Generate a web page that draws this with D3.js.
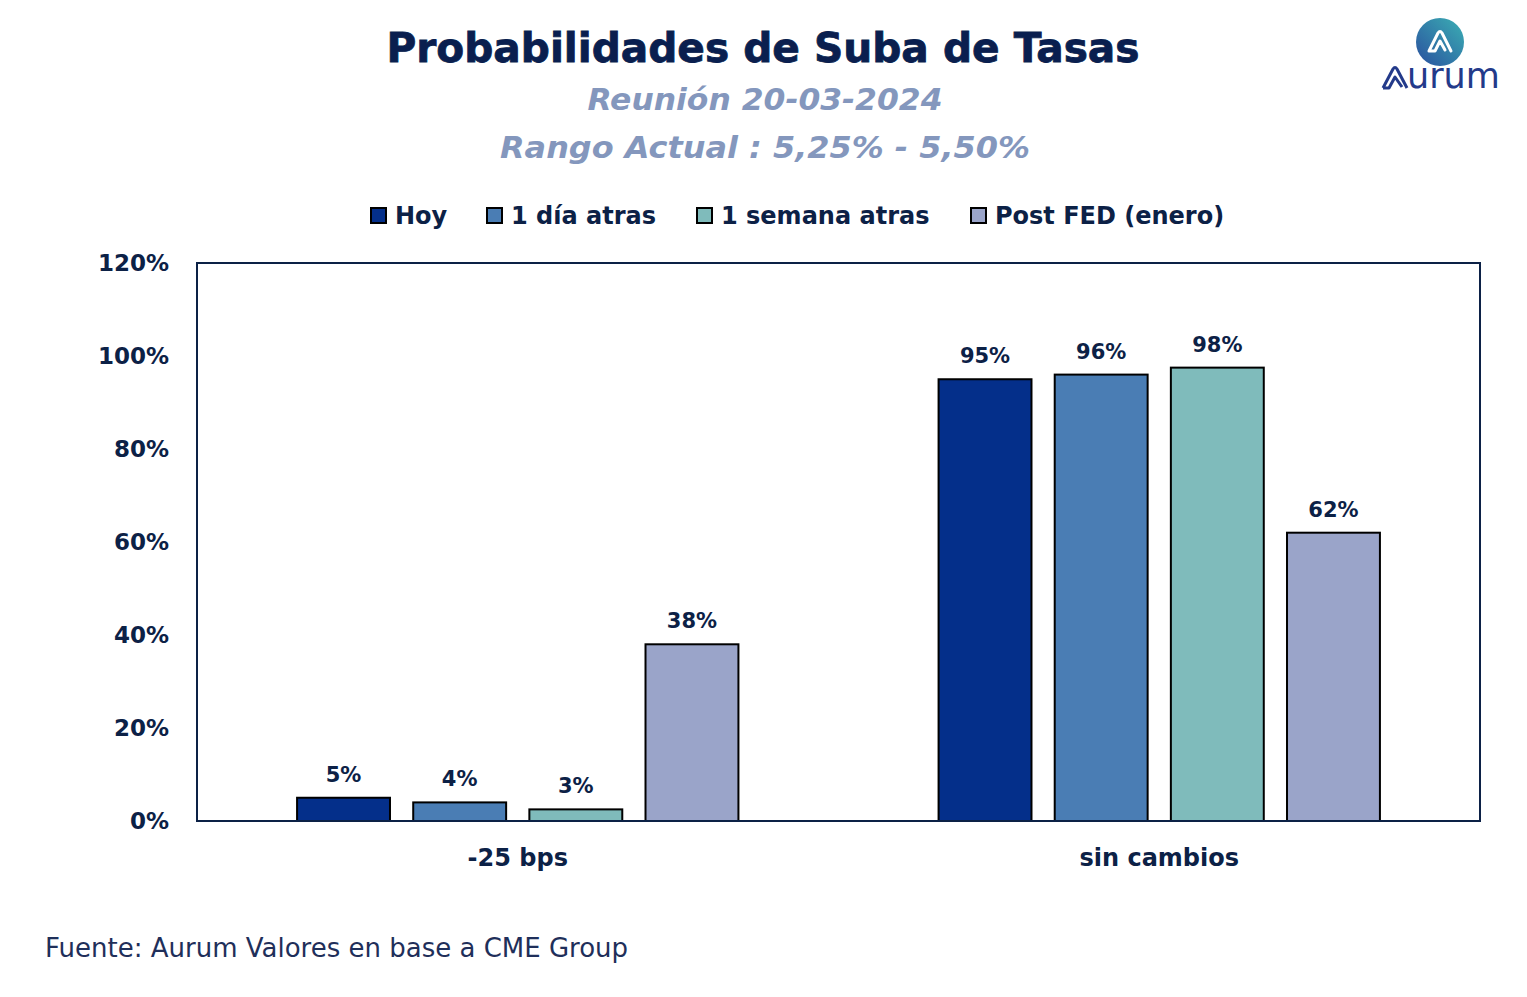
<!DOCTYPE html>
<html>
<head>
<meta charset="utf-8">
<style>
  body { margin: 0; background: #fff; }
  text { font-family: "DejaVu Sans", sans-serif; fill: #0c2146; }
  .bold { font-weight: bold; }
</style>
</head>
<body>
<svg width="1527" height="997"></svg>
<script src="https://cdn.jsdelivr.net/npm/d3@7"></script>
<script>
// data
var categories = ["-25 bps", "sin cambios"];
var series = ["Hoy", "1 día atras", "1 semana atras", "Post FED (enero)"];
var hoy = [5, 95];
var unDia = [4, 96];
var unaSemana = [2.5, 97.5];
var postFed = [38, 62];
var yTicks = [0, 20, 40, 60, 80, 100, 120];
var colors = ["#042f8a", "#4a7db4", "#7fbbbb", "#9aa4c9"];

var values = [hoy, unDia, unaSemana, postFed];
var rows = categories.map(function(c, i) {
    return { cat: c, vals: series.map(function(s, j) { return { s: s, v: values[j][i] }; }) };
});

var svg = d3.select("svg");
var margin = { left: 197, right: 47, top: 263, bottom: 176 };
var W = 1527, H = 997;

var x0 = d3.scaleBand().domain(categories).range([margin.left, W - margin.right]).padding(0);
var gap = x0.bandwidth() * 0.156;
var x1 = d3.scaleBand().domain(series).range([gap, x0.bandwidth() - gap]).paddingInner(0.2).paddingOuter(0);
var y = d3.scaleLinear().domain([0, 120]).range([H - margin.bottom, margin.top]);
var color = d3.scaleOrdinal().domain(series).range(colors);

// titles
function fitText(sel, width) {
    sel.attr("textLength", width).attr("lengthAdjust", "spacingAndGlyphs");
}
var t1 = svg.append("text").attr("x", 763).attr("y", 62).attr("text-anchor", "middle")
    .style("font-weight", "bold")
    .style("font-size", "40px").style("fill", "#0a1f4f").style("stroke", "#0a1f4f").style("stroke-width", "0.8px")
    .text("Probabilidades de Suba de Tasas");
fitText(t1, 753);
var t2 = svg.append("text").attr("x", 765).attr("y", 110).attr("text-anchor", "middle")
    .style("font-weight", "bold").style("font-style", "italic")
    .style("font-size", "31px").style("fill", "#8497bd")
    .text("Reunión 20-03-2024");
fitText(t2, 355);
var t3 = svg.append("text").attr("x", 765).attr("y", 158).attr("text-anchor", "middle")
    .style("font-weight", "bold").style("font-style", "italic")
    .style("font-size", "31px").style("fill", "#8497bd")
    .text("Rango Actual : 5,25% - 5,50%");
fitText(t3, 530);

// legend
var legendX = [371, 487, 697, 971];
var legend = svg.append("g").selectAll("g").data(series).join("g")
    .attr("transform", function(d, i) { return "translate(" + legendX[i] + ",208)"; });
legend.append("rect").attr("width", 15).attr("height", 15)
    .attr("fill", function(d) { return color(d); }).attr("stroke", "#000").attr("stroke-width", 2);
legend.append("text").attr("class", "bold").attr("x", 24).attr("y", 16)
    .style("font-size", "24px").text(function(d) { return d; });

// plot frame
svg.append("rect").attr("x", margin.left).attr("y", margin.top)
    .attr("width", W - margin.left - margin.right).attr("height", H - margin.top - margin.bottom)
    .attr("fill", "none").attr("stroke", "#0c2146").attr("stroke-width", 2);

// y axis
var yAxis = svg.append("g").attr("transform", "translate(" + margin.left + ",0)")
    .call(d3.axisLeft(y).tickValues(yTicks).tickSize(0).tickPadding(28).tickFormat(function(d) { return d + "%"; }));
yAxis.select(".domain").remove();
yAxis.selectAll("text").attr("class", "bold").style("font-size", "23px").style("fill", "#0c2146")
    .style("font-family", "'DejaVu Sans', sans-serif");

// x axis labels
var xAxis = svg.append("g").attr("transform", "translate(0," + (H - margin.bottom) + ")")
    .call(d3.axisBottom(x0).tickSize(0).tickPadding(28));
xAxis.select(".domain").remove();
xAxis.selectAll("text").attr("class", "bold").style("font-size", "24px").style("fill", "#0c2146")
    .style("font-family", "'DejaVu Sans', sans-serif");

// bars
var groups = svg.append("g").selectAll("g").data(rows).join("g")
    .attr("transform", function(d) { return "translate(" + x0(d.cat) + ",0)"; });
groups.selectAll("rect").data(function(d) { return d.vals; }).join("rect")
    .attr("x", function(d) { return x1(d.s); })
    .attr("y", function(d) { return y(d.v); })
    .attr("width", x1.bandwidth())
    .attr("height", function(d) { return y(0) - y(d.v); })
    .attr("fill", function(d) { return color(d.s); })
    .attr("stroke", "#000").attr("stroke-width", 2);
groups.selectAll("text.lbl").data(function(d) { return d.vals; }).join("text")
    .attr("class", "lbl bold")
    .attr("x", function(d) { return x1(d.s) + x1.bandwidth() / 2; })
    .attr("y", function(d) { return y(d.v) - 16; })
    .attr("text-anchor", "middle").style("font-size", "21px")
    .text(function(d) { return Math.round(d.v) + "%"; });

// baseline over bars
svg.append("line").attr("x1", margin.left).attr("x2", W - margin.right)
    .attr("y1", y(0)).attr("y2", y(0)).attr("stroke", "#0c2146").attr("stroke-width", 2);

// source
svg.append("text").attr("x", 45).attr("y", 957)
    .style("font-size", "26px").style("fill", "#1f2f5a")
    .text("Fuente: Aurum Valores en base a CME Group");

// logo
var defs = svg.append("defs");
var grad = defs.append("linearGradient").attr("id", "lg").attr("x1", "0").attr("y1", "1").attr("x2", "1").attr("y2", "0");
grad.append("stop").attr("offset", "0").attr("stop-color", "#2a4f9e");
grad.append("stop").attr("offset", "1").attr("stop-color", "#3bb0b4");
var logo = svg.append("g").attr("transform", "translate(1440,42)");
logo.append("circle").attr("r", 24).attr("fill", "url(#lg)");
logo.append("path").attr("d", "M-11,9 L-2,-9 Q0,-12 2,-9 L11,9 M-11,9 L-5,9 L0,-1 L5,8")
    .attr("fill", "none").attr("stroke", "#fff").attr("stroke-width", 3).attr("stroke-linejoin", "round").attr("stroke-linecap", "round");
svg.append("path").attr("d", "M1383,88 L1393,69 Q1395,66 1397,69 L1407,88 M1383,88 L1389,88 L1395,77 L1402,87")
    .attr("fill", "none").attr("stroke", "#233a8a").attr("stroke-width", 3).attr("stroke-linejoin", "round");
svg.append("text").attr("x", 1407).attr("y", 88)
    .style("font-size", "35px").style("fill", "#233a8a")
    .text("urum");
</script>
</body>
</html>
